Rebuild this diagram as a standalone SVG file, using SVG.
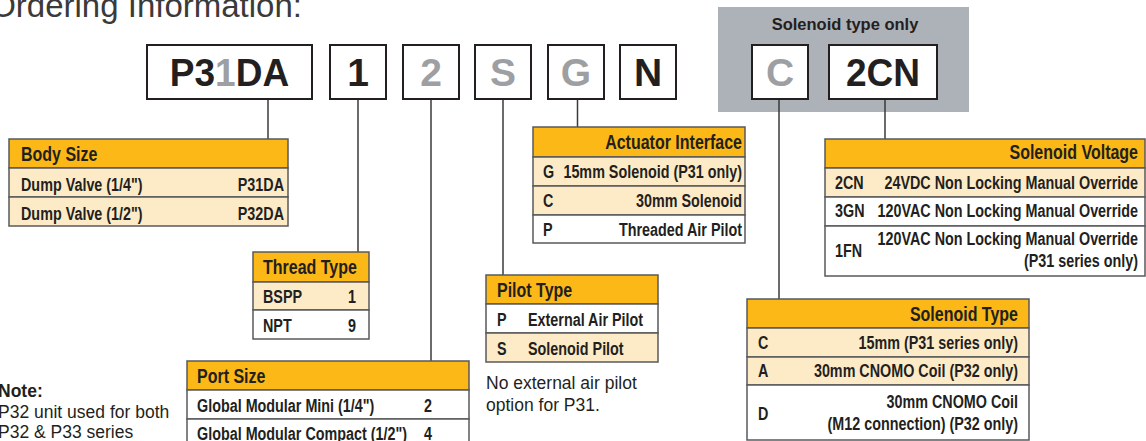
<svg xmlns="http://www.w3.org/2000/svg" width="1146" height="441" viewBox="0 0 1146 441">
<style>
.title{font-family:"Liberation Sans",Arial,sans-serif;font-size:33px;fill:#3a3a3a}
.bx{fill:#fff;stroke:#231f20;stroke-width:2}
.bt{font-family:"Liberation Sans",Arial,sans-serif;font-weight:bold;font-size:39px;text-anchor:middle;fill:#231f20}
.gr{fill:#9d9fa2}
.hdr{fill:#fbb817;stroke:#58595b;stroke-width:1.5}
.cr{fill:#fdebc8;stroke:#58595b;stroke-width:1.5}
.wh{fill:#fff;stroke:#58595b;stroke-width:1.5}
.h{font-family:"Liberation Sans",Arial,sans-serif;font-weight:bold;font-size:19.5px;fill:#231f20}
.r{font-family:"Liberation Sans",Arial,sans-serif;font-weight:bold;font-size:17.5px;fill:#231f20}
.e{text-anchor:end}
.n{font-family:"Liberation Sans",Arial,sans-serif;font-size:17.5px;fill:#231f20}
.conn line{stroke:#3a3a3a;stroke-width:1.5}
</style>
<text class="title" x="302" y="17" text-anchor="end">Ordering Information:</text>
<g id="solenoid-panel">
<rect x="718" y="7" width="251" height="105" fill="#adb1b8"/>
<text x="845" y="30" font-family="Liberation Sans,Arial,sans-serif" font-weight="bold" font-size="16.5" text-anchor="middle" fill="#231f20">Solenoid type only</text>
</g>
<g class="conn" id="connectors">
<line x1="268" y1="99" x2="268" y2="139"/>
<line x1="358" y1="99" x2="358" y2="252"/>
<line x1="431" y1="99" x2="431" y2="361"/>
<line x1="503" y1="99" x2="503" y2="275"/>
<line x1="577.5" y1="99" x2="577.5" y2="127"/>
<line x1="779" y1="99" x2="779" y2="299"/>
<line x1="885" y1="99" x2="885" y2="139"/>
</g>
<g id="code-P31DA"><rect class="bx" x="147" y="45" width="165" height="54"/><text class="bt" transform="translate(229.5 86) scale(.95 1)">P3<tspan class="gr">1</tspan>DA</text></g>
<g id="code-1"><rect class="bx" x="330" y="45" width="56" height="54"/><text class="bt" x="358" y="86">1</text></g>
<g id="code-2"><rect class="bx" x="403" y="45" width="56" height="54"/><text class="bt gr" x="431" y="86">2</text></g>
<g id="code-S"><rect class="bx" x="475" y="45" width="56" height="54"/><text class="bt gr" x="503" y="86">S</text></g>
<g id="code-G"><rect class="bx" x="548" y="45" width="56" height="54"/><text class="bt gr" x="576" y="86">G</text></g>
<g id="code-N"><rect class="bx" x="620" y="45" width="56" height="54"/><text class="bt" x="648" y="86">N</text></g>
<g id="code-C"><rect class="bx" x="752" y="45" width="56" height="54"/><text class="bt gr" x="780" y="86">C</text></g>
<g id="code-2CN"><rect class="bx" x="829" y="45" width="108" height="54"/><text class="bt" transform="translate(883 86) scale(.95 1)">2CN</text></g>

<g id="body-size">
<rect class="hdr" x="9" y="139" width="279" height="29"/>
<rect class="cr" x="9" y="168" width="279" height="29"/>
<rect class="cr" x="9" y="197" width="279" height="29"/>
<text class="h" transform="translate(21 161) scale(.82 1)">Body Size</text>
<text class="r" transform="translate(21 191) scale(.82 1)">Dump Valve (1/4")</text><text class="r e" transform="translate(284 191) scale(.82 1)">P31DA</text>
<text class="r" transform="translate(21 220) scale(.82 1)">Dump Valve (1/2")</text><text class="r e" transform="translate(284 220) scale(.82 1)">P32DA</text>
</g>
<g id="thread-type">
<rect class="hdr" x="253" y="252" width="116" height="30"/>
<rect class="cr" x="253" y="282" width="116" height="28"/>
<rect class="wh" x="253" y="310" width="116" height="29"/>
<text class="h" transform="translate(263 274) scale(.82 1)">Thread Type</text>
<text class="r" transform="translate(263 303) scale(.82 1)">BSPP</text><text class="r e" transform="translate(356 303) scale(.82 1)">1</text>
<text class="r" transform="translate(263 332) scale(.82 1)">NPT</text><text class="r e" transform="translate(356 332) scale(.82 1)">9</text>
</g>
<g id="port-size">
<rect class="hdr" x="187" y="361" width="282" height="29"/>
<rect class="wh" x="187" y="390" width="282" height="29"/>
<rect class="wh" x="187" y="419" width="282" height="29"/>
<text class="h" transform="translate(197 383) scale(.82 1)">Port Size</text>
<text class="r" transform="translate(197 412) scale(.82 1)">Global Modular Mini (1/4")</text><text class="r" transform="translate(424 412) scale(.82 1)">2</text>
<text class="r" transform="translate(197 440) scale(.82 1)">Global Modular Compact (1/2")</text><text class="r" transform="translate(424 440) scale(.82 1)">4</text>
</g>
<g id="note">
<text class="n" x="-2" y="397" font-weight="bold">Note:</text>
<text class="n" x="-2" y="418">P32 unit used for both</text>
<text class="n" x="-2" y="438">P32 &amp; P33 series</text>
</g>
<g id="pilot-type">
<rect class="hdr" x="486" y="275" width="172" height="29"/>
<rect class="wh" x="486" y="304" width="172" height="29"/>
<rect class="cr" x="486" y="333" width="172" height="29"/>
<text class="h" transform="translate(497 297) scale(.82 1)">Pilot Type</text>
<text class="r" transform="translate(497 326) scale(.82 1)">P</text><text class="r" transform="translate(528 326) scale(.82 1)">External Air Pilot</text>
<text class="r" transform="translate(497 355) scale(.82 1)">S</text><text class="r" transform="translate(528 355) scale(.82 1)">Solenoid Pilot</text>
<text class="n" x="486" y="389" font-size="18">No external air pilot</text>
<text class="n" x="486" y="411" font-size="18">option for P31.</text>
</g>
<g id="actuator-interface">
<rect class="hdr" x="533" y="127" width="212" height="30"/>
<rect class="cr" x="533" y="157" width="212" height="29"/>
<rect class="cr" x="533" y="186" width="212" height="29"/>
<rect class="wh" x="533" y="215" width="212" height="28"/>
<text class="h e" transform="translate(742 149) scale(.82 1)">Actuator Interface</text>
<text class="r" transform="translate(543 178) scale(.82 1)">G</text><text class="r e" transform="translate(742 178) scale(.82 1)">15mm Solenoid (P31 only)</text>
<text class="r" transform="translate(543 207) scale(.82 1)">C</text><text class="r e" transform="translate(742 207) scale(.82 1)">30mm Solenoid</text>
<text class="r" transform="translate(543 236) scale(.82 1)">P</text><text class="r e" transform="translate(742 236) scale(.82 1)">Threaded Air Pilot</text>
</g>
<g id="solenoid-voltage">
<rect class="hdr" x="825" y="139" width="320" height="29"/>
<rect class="cr" x="825" y="168" width="320" height="29"/>
<rect class="wh" x="825" y="197" width="320" height="29"/>
<rect class="wh" x="825" y="226" width="320" height="50"/>
<text class="h e" transform="translate(1138 159) scale(.82 1)">Solenoid Voltage</text>
<text class="r" transform="translate(835 189) scale(.82 1)">2CN</text><text class="r e" transform="translate(1138 189) scale(.82 1)">24VDC Non Locking Manual Override</text>
<text class="r" transform="translate(835 217) scale(.82 1)">3GN</text><text class="r e" transform="translate(1138 217) scale(.82 1)">120VAC Non Locking Manual Override</text>
<text class="r" transform="translate(835 257) scale(.82 1)">1FN</text><text class="r e" transform="translate(1138 245) scale(.82 1)">120VAC Non Locking Manual Override</text>
<text class="r e" transform="translate(1138 267) scale(.82 1)">(P31 series only)</text>
</g>
<g id="solenoid-type">
<rect class="hdr" x="747" y="299" width="282" height="29"/>
<rect class="cr" x="747" y="328" width="282" height="29"/>
<rect class="cr" x="747" y="357" width="282" height="28"/>
<rect class="wh" x="747" y="385" width="282" height="55"/>
<text class="h e" transform="translate(1018 321) scale(.82 1)">Solenoid Type</text>
<text class="r" transform="translate(758 349) scale(.82 1)">C</text><text class="r e" transform="translate(1018 349) scale(.82 1)">15mm (P31 series only)</text>
<text class="r" transform="translate(758 377) scale(.82 1)">A</text><text class="r e" transform="translate(1018 377) scale(.82 1)">30mm CNOMO Coil (P32 only)</text>
<text class="r" transform="translate(758 420) scale(.82 1)">D</text><text class="r e" transform="translate(1018 408) scale(.82 1)">30mm CNOMO Coil</text>
<text class="r e" transform="translate(1018 430) scale(.82 1)">(M12 connection) (P32 only)</text>
</g>
</svg>
